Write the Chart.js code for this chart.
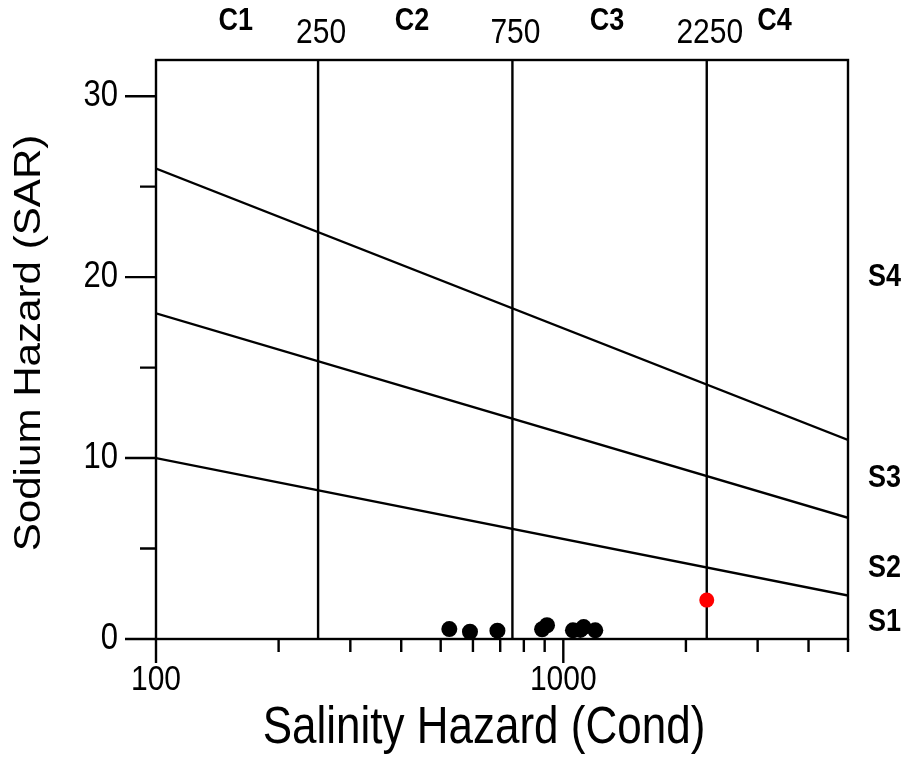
<!DOCTYPE html>
<html>
<head>
<meta charset="utf-8">
<script src="https://cdn.jsdelivr.net/npm/chart.js@4.4.1/dist/chart.umd.min.js"></script>
<style>
html,body{margin:0;padding:0;background:#fff;}
#wrap{width:910px;height:761px;}
</style>
</head>
<body>
<div id="wrap"><canvas id="c" width="910" height="761"></canvas></div>
<script>
// ---- data ----
const condValues = [525, 590, 689, 887, 912, 1056, 1101, 1122, 1198];
const sarValues  = [0.55, 0.40, 0.46, 0.54, 0.76, 0.48, 0.50, 0.66, 0.48];
const highlightCond = [2250];
const highlightSar  = [2.15];

const condRange = [100, 5000];
const sarRange = [0, 32];

const salinityBoundaries = [250, 750, 2250];
const sodiumBoundaryStart = [10, 18, 26];    // SAR at cond = 100
const sodiumBoundaryEnd   = [2.4, 6.7, 11.0]; // SAR at cond = 5000

const salinityClassLabels = ['C1', 'C2', 'C3', 'C4'];
const salinityClassLabelCond = [157, 425, 1280, 3300];
const sodiumClassLabels = ['S1', 'S2', 'S3', 'S4'];
const sodiumClassLabelSar = [0.95, 3.9, 8.9, 20.0];

const xTickLabels = [100, 1000];
const xMinorTicks = [200, 300, 400, 500, 600, 700, 800, 900, 2000, 3000, 4000, 5000];
const yTickLabels = [0, 10, 20, 30];
const yMinorTicks = [5, 15, 25];

const xTitle = 'Salinity Hazard (Cond)';
const yTitle = 'Sodium Hazard (SAR)';

// ---- build datasets ----
const FONT = '"Liberation Sans", Arial, Helvetica, sans-serif';
const K = 1.17; // vertical stretch of the text in the reference

const datasets = [];
datasets.push({
  type: 'scatter', label: 'samples', order: 0,
  data: condValues.map((c, i) => ({x: c, y: sarValues[i]})),
  backgroundColor: '#000', borderWidth: 0, pointRadius: 8, pointHoverRadius: 8
});
datasets.push({
  type: 'scatter', label: 'highlight', order: 0,
  data: highlightCond.map((c, i) => ({x: c, y: highlightSar[i]})),
  backgroundColor: '#ff0000', borderWidth: 0, pointRadius: 7.5, pointHoverRadius: 7.5
});
sodiumBoundaryStart.forEach((s, i) => {
  datasets.push({
    type: 'line', label: 'S' + (i + 1) + '/S' + (i + 2), order: 1,
    data: [{x: condRange[0], y: s}, {x: condRange[1], y: sodiumBoundaryEnd[i]}],
    borderColor: '#000', borderWidth: 2.4, pointRadius: 0, fill: false, tension: 0
  });
});
salinityBoundaries.forEach((c, i) => {
  datasets.push({
    type: 'line', label: 'C' + (i + 1) + '/C' + (i + 2), order: 1,
    data: [{x: c, y: sarRange[0]}, {x: c, y: sarRange[1]}],
    borderColor: '#000', borderWidth: 2.4, pointRadius: 0, fill: false, tension: 0
  });
});

function drawText(ctx, text, x, y, size, bold, align, rotate) {
  ctx.save();
  ctx.translate(x, y);
  ctx.scale(1, K);
  if (rotate) ctx.rotate(-Math.PI / 2);
  ctx.font = (bold ? 'bold ' : '') + size + 'px ' + FONT;
  ctx.fillStyle = '#000';
  ctx.textAlign = align;
  ctx.textBaseline = 'middle';
  ctx.fillText(text, 0, 0);
  ctx.restore();
}

const decorPlugin = {
  id: 'decor',
  afterDraw(chart) {
    const ctx = chart.ctx;
    const xs = chart.scales.x, ys = chart.scales.y;
    const a = chart.chartArea;
    ctx.save();
    ctx.strokeStyle = '#000';
    ctx.lineWidth = 2.4;
    // frame
    ctx.strokeRect(a.left, a.top, a.right - a.left, a.bottom - a.top);
    // y ticks
    ctx.beginPath();
    yTickLabels.forEach(v => { const p = ys.getPixelForValue(v); ctx.moveTo(a.left - 31, p); ctx.lineTo(a.left, p); });
    yMinorTicks.forEach(v => { const p = ys.getPixelForValue(v); ctx.moveTo(a.left - 16, p); ctx.lineTo(a.left, p); });
    // x ticks
    xTickLabels.forEach(v => { const p = xs.getPixelForValue(v); ctx.moveTo(p, a.bottom); ctx.lineTo(p, a.bottom + 24); });
    xMinorTicks.forEach(v => { const p = xs.getPixelForValue(v); ctx.moveTo(p, a.bottom); ctx.lineTo(p, a.bottom + 13); });
    ctx.stroke();
    ctx.restore();

    // tick labels
    yTickLabels.forEach(v => drawText(ctx, String(v), a.left - 38, ys.getPixelForValue(v), 31, false, 'right'));
    xTickLabels.forEach(v => drawText(ctx, String(v), xs.getPixelForValue(v), a.bottom + 41, 30, false, 'center'));
    // top boundary values
    salinityBoundaries.forEach(v => drawText(ctx, String(v), xs.getPixelForValue(v) + 3, a.top - 27, 30, false, 'center'));
    // class labels
    salinityClassLabels.forEach((t, i) => drawText(ctx, t, xs.getPixelForValue(salinityClassLabelCond[i]), a.top - 39, 27, true, 'center'));
    sodiumClassLabels.forEach((t, i) => drawText(ctx, t, a.right + 20, ys.getPixelForValue(sodiumClassLabelSar[i]), 27, true, 'left'));
    // titles
    drawText(ctx, xTitle, 484, 729, 44, false, 'center');
    drawText(ctx, yTitle, 30, 343, 36, false, 'center', true);
  }
};

new Chart(document.getElementById('c'), {
  data: { datasets },
  options: {
    responsive: false,
    animation: false,
    devicePixelRatio: 1,
    layout: { padding: { left: 0, top: 60, right: 62, bottom: 0 } },
    plugins: { legend: { display: false }, tooltip: { enabled: false } },
    scales: {
      x: {
        type: 'logarithmic', position: 'bottom',
        min: condRange[0], max: condRange[1],
        ticks: { display: false },
        grid: { display: false, drawTicks: false },
        border: { display: true, color: '#000', width: 2 },
        afterFit(s) { s.height = 122; }
      },
      y: {
        type: 'linear', position: 'left',
        min: sarRange[0], max: sarRange[1],
        ticks: { display: false },
        grid: { display: false, drawTicks: false },
        border: { display: true, color: '#000', width: 2 },
        afterFit(s) { s.width = 156; }
      }
    }
  },
  plugins: [decorPlugin]
});
</script>
</body>
</html>
